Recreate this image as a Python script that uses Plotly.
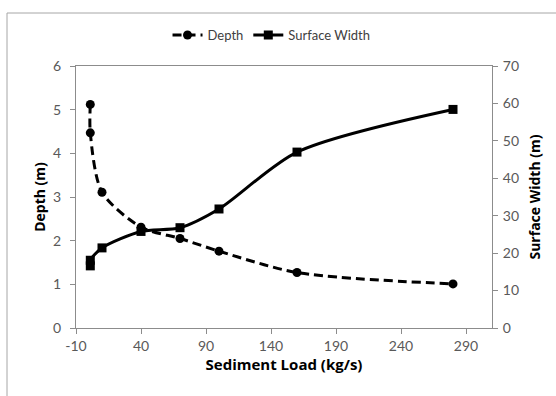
import plotly.graph_objects as go

sediment_load = [1, 1, 10, 40, 70, 100, 160, 280]
depth = [5.12, 4.47, 3.11, 2.31, 2.05, 1.76, 1.27, 1.01]
surface_width = [16.6, 18.1, 21.4, 25.8, 26.8, 31.8, 47.0, 58.4]

x_ticks = [-10, 40, 90, 140, 190, 240, 290]
y_ticks = [0, 1, 2, 3, 4, 5, 6]
y2_ticks = [0, 10, 20, 30, 40, 50, 60, 70]

FONT = "Lato, Open Sans, Liberation Sans, sans-serif"
GRAY = "#595959"
AXIS = "#8c8c8c"

fig = go.Figure()
fig.add_trace(go.Scatter(
    x=sediment_load, y=depth, name="Depth", mode="lines+markers",
    line=dict(color="black", width=3, dash="9px,5px", shape="spline", smoothing=0.8),
    marker=dict(symbol="circle", size=9, color="black"),
))
fig.add_trace(go.Scatter(
    x=sediment_load, y=surface_width, name="Surface Width", mode="lines+markers",
    yaxis="y2",
    line=dict(color="black", width=3, shape="spline", smoothing=0.8),
    marker=dict(symbol="square", size=9, color="black"),
))

fig.update_layout(
    width=556, height=396,
    margin=dict(l=76, r=64, t=66, b=68, autoexpand=False),
    paper_bgcolor="white", plot_bgcolor="white",
    font=dict(family=FONT, size=14, color=GRAY),
    showlegend=True,
    legend=dict(orientation="h", x=0.47, xanchor="center", y=1.118, yanchor="middle",
                xref="paper", yref="paper", font=dict(size=13, color="#404040"),
                itemwidth=30, bgcolor="rgba(0,0,0,0)"),
    xaxis=dict(
        range=[-10, 310], tickvals=x_ticks, ticktext=[str(v) for v in x_ticks],
        showgrid=False, zeroline=False, showline=True, linecolor=AXIS, linewidth=1,
        mirror=True, ticks="outside", ticklen=5, tickcolor=AXIS,
        title=dict(text="<b>Sediment Load (kg/s)</b>", font=dict(family="Open Sans", size=15, color="black"), standoff=6),
    ),
    yaxis=dict(
        range=[0, 6], tickvals=y_ticks, showgrid=False, zeroline=False,
        showline=True, linecolor=AXIS, linewidth=1, ticks="outside", ticklen=5, tickcolor=AXIS,
        ticklabelstandoff=6,
        title=dict(text="<b>Depth (m)</b>", font=dict(family="Open Sans", size=14, color="black"), standoff=4),
    ),
    yaxis2=dict(
        range=[0, 70], tickvals=y2_ticks, overlaying="y", side="right",
        showgrid=False, zeroline=False, showline=True, linecolor=AXIS, linewidth=1,
        ticks="outside", ticklen=5, tickcolor=AXIS, ticklabelstandoff=2,
        title=dict(text="<b>Surface Width (m)</b>", font=dict(family="Open Sans", size=14, color="black"), standoff=12),
    ),
    shapes=[dict(type="rect", xref="paper", yref="paper",
                 x0=-69 / 416, x1=1.2, y0=-0.3, y1=1 + 53 / 262,
                 line=dict(color="#a6a6a6", width=1), fillcolor="rgba(0,0,0,0)", layer="below")],
)

fig.write_html("out.html")
